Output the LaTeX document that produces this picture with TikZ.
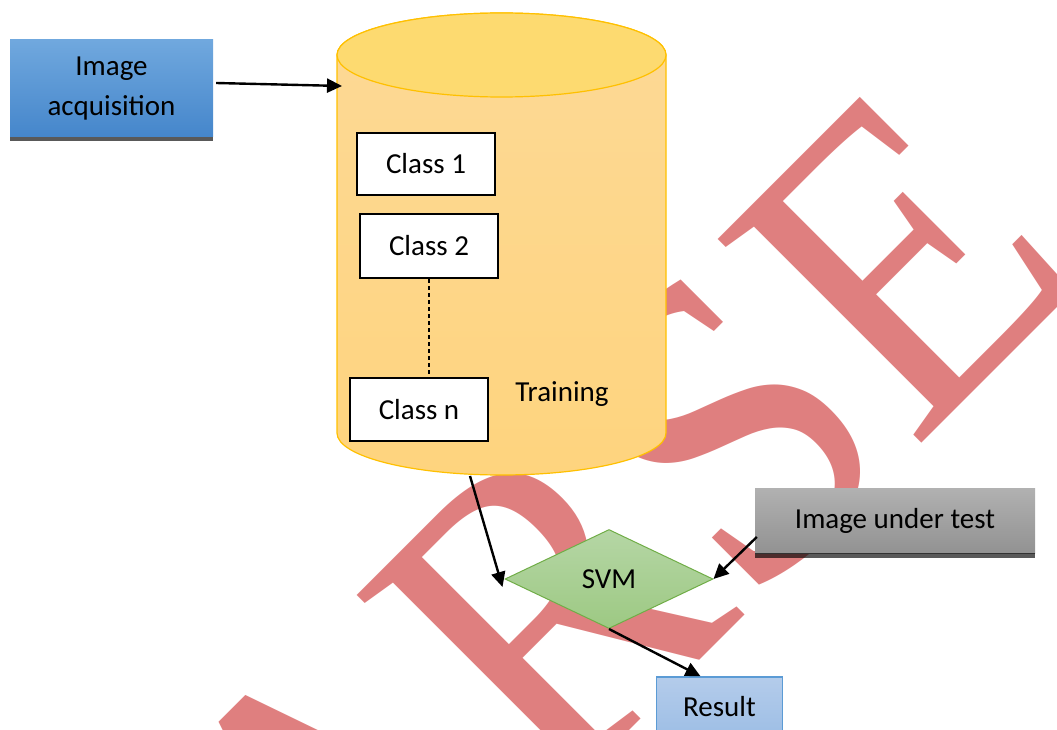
\documentclass[tikz,border=0pt]{standalone}
\usepackage{fontspec}
\setmainfont{Carlito}
\newfontfamily\wmfont{Liberation Serif}
\usetikzlibrary{arrows.meta,shapes.geometric}
\definecolor{wmred}{HTML}{DF7F7F}
\definecolor{gold}{HTML}{FFC000}
\definecolor{cyltop}{HTML}{FDDA70}
\definecolor{cylbodyA}{HTML}{FDD996}
\definecolor{cylbodyB}{HTML}{FED47E}
\definecolor{blueA}{HTML}{70A8DE}
\definecolor{blueB}{HTML}{4586CB}
\definecolor{greyA}{HTML}{B1B1B1}
\definecolor{greyB}{HTML}{929292}
\definecolor{greenA}{HTML}{B5D6A5}
\definecolor{greenB}{HTML}{9DC983}
\definecolor{greenE}{HTML}{70AD47}
\definecolor{resA}{HTML}{B4CCEB}
\definecolor{resB}{HTML}{9DBEE5}
\definecolor{resE}{HTML}{5B9BD5}
\tikzset{
  wm/.style={font=\wmfont\fontsize{440}{440}\selectfont, text=wmred, inner sep=0pt, rotate=45, xscale=0.93, anchor=base west},
  classbox/.style={draw=black, line width=2.5pt, fill=white, minimum width=138pt, minimum height=62pt, inner sep=0pt},
  arr/.style={line width=2.4pt, -{Triangle[length=15pt,width=14pt]}},
  shadowc/.style={fill=black, opacity=0.65},
}
\begin{document}
\begin{tikzpicture}[x=1pt,y=-1pt, font=\fontsize{29}{36}\selectfont]
\useasboundingbox (0,0) rectangle (1057,730);
\clip (0,0) rectangle (1057,730);

% watermark
\node[wm] (wA) at (335,1017) {A};
\node[wm] (wR) at (552,808) {R};
\node[wm] (wS) at (747,613) {S};
\node[wm] (wE) at (913.5,451.5) {E};

% image acquisition
\node[minimum width=203pt, minimum height=97pt, inner sep=0pt, top color=blueA, bottom color=blueB, align=center] (acq) at (111.5,88.5) {Image\\[4pt]acquisition};
\fill[shadowc] (acq.south west) rectangle ([yshift=-4pt]acq.south east);

% cylinder
\path[draw=gold, line width=1.2pt, top color=cylbodyA, bottom color=cylbodyB]
  (337,55) -- (337,433) arc[start angle=180, end angle=360, x radius=164.5pt, y radius=42pt]
  -- (666,55) arc[start angle=0, end angle=180, x radius=164.5pt, y radius=42pt] -- cycle;
\path[draw=gold, line width=1.2pt, fill=cyltop] (501.5,55) ellipse[x radius=164.5pt, y radius=42pt];
\node[inner sep=0pt, minimum width=329pt, minimum height=462pt] (cyl) at (501.5,244) {};
\coordinate (cylin) at (342,86);
\coordinate (cylout) at (470,476);

\node[classbox] (c1) at (426,164) {Class 1};
\node[classbox, minimum height=64pt] (c2) at (429,246) {Class 2};
\node[classbox, minimum height=63pt] (cn) at (419,409.5) {Class n};
\node (train) at (562,394) {Training};
\draw[line width=1.2pt, dash pattern=on 4pt off 3pt] (c2.south) -- (c2.south |- cn.north);

% SVM
\node[diamond, draw=greenE, line width=1pt, top color=greenA, bottom color=greenB, minimum width=208pt, minimum height=99pt, inner sep=0pt] (svm) at (609,579) {SVM};

% image under test
\node[minimum width=280pt, minimum height=65pt, inner sep=0pt, top color=greyA, bottom color=greyB] (test) at (895,520.5) {Image under test};
\fill[shadowc] (test.south west) rectangle ([yshift=-5pt]test.south east);

% result
\node[draw=resE, line width=1.5pt, minimum width=126pt, minimum height=60pt, inner sep=0pt, top color=resA, bottom color=resB] (res) at (719.5,707) {Result};

% connectors
\draw[arr] ([xshift=3pt,yshift=5.5pt]acq.east) -- (cylin);
\draw[arr] (cylout) -- ([xshift=-2pt,yshift=-8pt]svm.west);
\draw[arr] ([xshift=2pt,yshift=-16.5pt]test.west) -- (svm.east);
\draw[arr] (svm.south) -- ([xshift=-19pt]res.north);
\end{tikzpicture}
\end{document}
